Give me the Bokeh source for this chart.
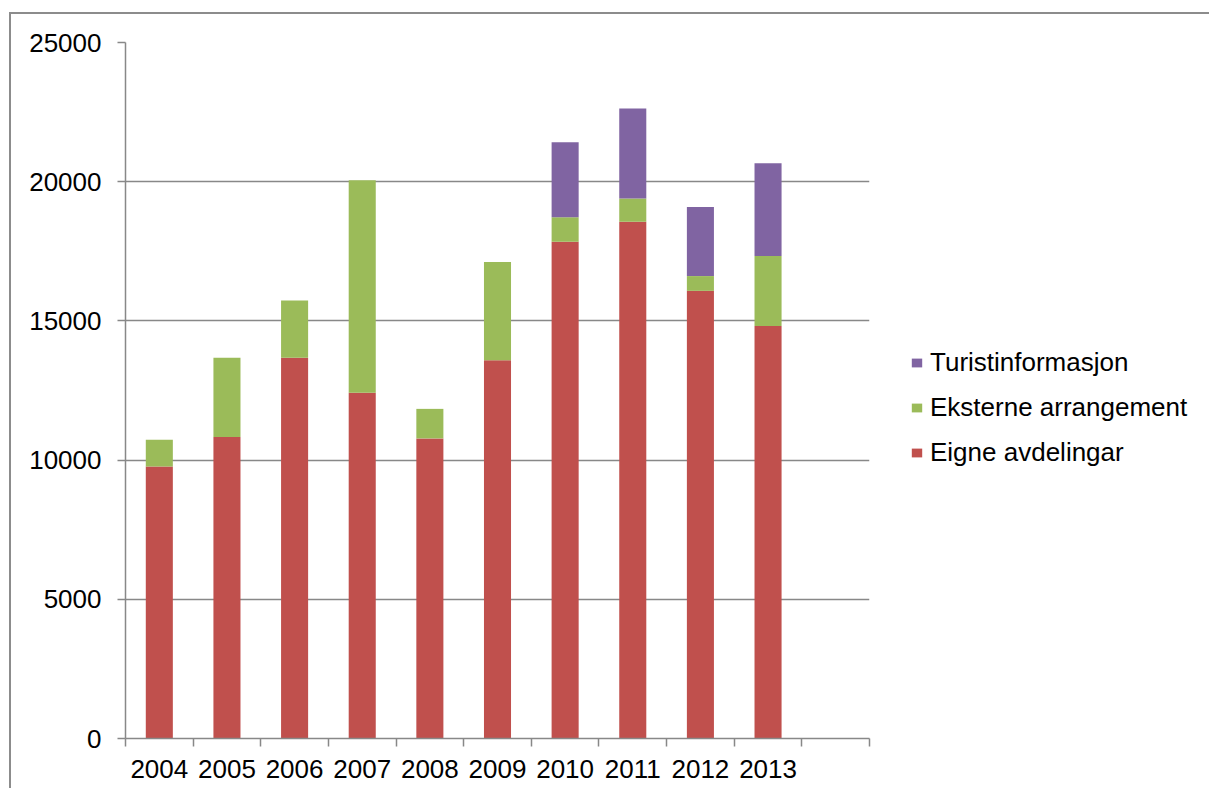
from bokeh.plotting import figure
from bokeh.models import Range1d, FixedTicker, Legend, LegendItem, ColumnDataSource
from bokeh.embed import file_html
from bokeh.resources import INLINE

years = ["2004", "2005", "2006", "2007", "2008", "2009", "2010", "2011", "2012", "2013"]
eigne_avdelingar = [9770, 10830, 13680, 12420, 10780, 13590, 17840, 18560, 16080, 14820]
eksterne_arrangement = [960, 2850, 2050, 7630, 1060, 3530, 880, 840, 530, 2510]
turistinformasjon = [0, 0, 0, 0, 0, 0, 2700, 3230, 2480, 3330]
series_names = ["Eigne avdelingar", "Eksterne arrangement", "Turistinformasjon"]
series_colors = ["#C0504D", "#9BBB59", "#8064A2"]
y_ticks = [0, 5000, 10000, 15000, 20000, 25000]
n_slots = 11

FONT = "Liberation Sans"
GRAY = "#888888"

xs = [i + 0.5 for i in range(len(years))]
source = ColumnDataSource(dict(x=xs, eigne=eigne_avdelingar, eksterne=eksterne_arrangement,
                               turist=turistinformasjon))

p = figure(frame_width=744, frame_height=696,
           x_range=Range1d(0, n_slots), y_range=Range1d(0, 25000),
           output_backend="svg", toolbar_location=None,
           min_border_left=114, min_border_top=28, min_border_bottom=50, min_border_right=320)
p.outline_line_color = None
p.styles = {"margin-left": "9px", "margin-top": "12px",
            "border-left": "2px solid #8c8c8c", "border-top": "2px solid #8c8c8c"}

renderers = p.vbar_stack(["eigne", "eksterne", "turist"], x="x", width=0.4, source=source,
                         color=series_colors, line_color=None)

# x axis: labels at slot centres, ticks at slot boundaries
xa = p.xaxis[0]
xa.ticker = FixedTicker(ticks=xs, minor_ticks=list(range(n_slots + 1)))
xa.major_label_overrides = {x: y for x, y in zip(xs, years)}
xa.major_tick_out = 0
xa.major_tick_in = 0
xa.minor_tick_out = 8
xa.minor_tick_in = 0
xa.minor_tick_line_color = GRAY
xa.minor_tick_line_width = 1.5
xa.axis_line_color = GRAY
xa.axis_line_width = 1.5
xa.major_label_text_font = FONT
xa.major_label_text_font_size = "26px"
xa.major_label_text_color = "black"
xa.major_label_standoff = 13

ya = p.yaxis[0]
ya.ticker = FixedTicker(ticks=y_ticks)
ya.major_tick_out = 8
ya.major_tick_in = 0
ya.minor_tick_out = 0
ya.minor_tick_in = 0
ya.major_tick_line_color = GRAY
ya.major_tick_line_width = 1.5
ya.axis_line_color = GRAY
ya.axis_line_width = 1.5
ya.major_label_text_font = FONT
ya.major_label_text_font_size = "26px"
ya.major_label_text_color = "black"
ya.major_label_standoff = 16

p.xgrid.grid_line_color = None
p.ygrid.grid_line_color = GRAY
p.ygrid.grid_line_width = 1.5
p.ygrid.ticker = FixedTicker(ticks=y_ticks)

items = [LegendItem(label=series_names[i], renderers=[renderers[i]]) for i in (2, 1, 0)]
legend = Legend(items=items, location=(41, 270), orientation="vertical",
                padding=0, margin=0, border_line_color=None, background_fill_alpha=0,
                glyph_width=13, glyph_height=11, label_standoff=7,
                label_height=30, spacing=14,
                label_text_font=FONT, label_text_font_size="26px", label_text_color="black")
p.add_layout(legend, "right")

open("out.html", "w").write(file_html(p, INLINE))
